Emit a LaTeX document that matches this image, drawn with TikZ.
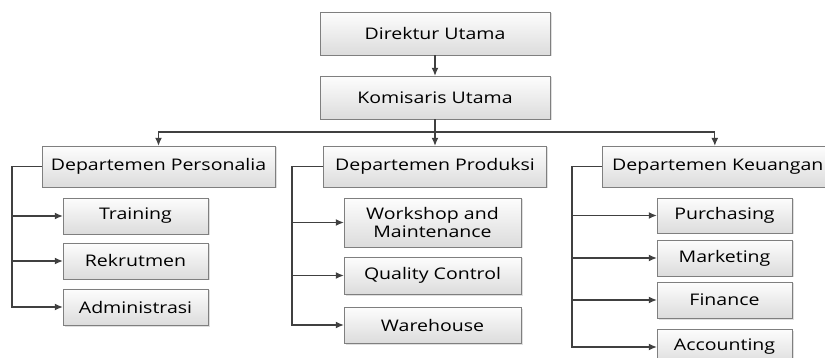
\documentclass[tikz,border=0pt]{standalone}
\usepackage{fontspec}
\setmainfont{Open Sans}[FakeStretch=1.22]
\usepackage{xcolor}
\definecolor{box-line}{HTML}{7F7F7F}
\definecolor{box-top}{HTML}{FDFDFD}
\definecolor{box-bottom}{HTML}{DCDCDC}
\definecolor{wire}{HTML}{404040}
\usepackage{tikz}
\usetikzlibrary{shadows, arrows.meta}
\tikzset{box/.style = {draw=box-line, top color=box-top, bottom color=box-bottom, align=center, text centered, inner sep=2pt, text=black, drop shadow={opacity=0.25, shadow xshift=1.5pt, shadow yshift=-1.5pt}}}
\tikzset{arr/.style = {draw=wire, line width=1.2pt, -{Latex[length=8pt, width=7pt]}}}
\tikzset{wire/.style = {draw=wire, line width=1.2pt}}

\begin{document}
\begin{tikzpicture}[x=1pt, y=-1pt,
  font=\fontsize{16}{18}\selectfont
]
\useasboundingbox (0,0) rectangle (825,358);

\node[box, minimum width=230, minimum height=43] (dir) at (435,33.5) {Direktur Utama};
\node[box, minimum width=230, minimum height=43] (kom) at (435,97.5) {Komisaris Utama};
\node[box, minimum width=233, minimum height=41] (per) at (158.5,166.5) {Departemen Personalia};
\node[box, minimum width=223, minimum height=41] (pro) at (435,166.5) {Departemen Produksi};
\node[box, minimum width=230, minimum height=41, inner xsep=10, anchor=west] (keu) at (602,166.5) {Departemen Keuangan};
% personalia
\node[box, minimum width=145, minimum height=36] (train) at (135.5,216) {Training};
\node[box, minimum width=145, minimum height=36] (rek) at (135.5,261) {Rekrutmen};
\node[box, minimum width=145, minimum height=36] (adm) at (135.5,307) {Administrasi};
% produksi
\node[box, minimum width=177, minimum height=49] (work) at (432.5,222.5) {Workshop and\\Maintenance};
\node[box, minimum width=177, minimum height=37] (qc) at (432.5,275.5) {Quality Control};
\node[box, minimum width=177, minimum height=36] (ware) at (432.5,325) {Warehouse};
% keuangan
\node[box, minimum width=135, minimum height=35] (pur) at (724.5,215.5) {Purchasing};
\node[box, minimum width=135, minimum height=36] (mar) at (724.5,258) {Marketing};
\node[box, minimum width=135, minimum height=36] (fin) at (724.5,300) {Finance};
\node[box, minimum width=135, minimum height=36] (acc) at (724.5,347) {Accounting};

\coordinate (bus) at (435,132);
\coordinate (perL) at (12,166.5);
\coordinate (proL) at (292,166.5);
\coordinate (keuL) at (572,166.5);

\draw[arr] (dir) -- (kom);
\draw[wire] (kom) -- (bus);
\draw[arr] (bus) -| (per.north);
\draw[arr] (bus) -- (pro.north);
\draw[arr] (bus) -| ([xshift=-3pt]keu.north);

\draw[wire] (per.west) -- (perL);
\draw[arr] (perL) |- (train);
\draw[arr] (perL) |- (rek);
\draw[arr] (perL) |- (adm);

\draw[wire] (pro.west) -- (proL);
\draw[arr] (proL) |- (work);
\draw[arr] (proL) |- (qc);
\draw[arr] (proL) |- (ware);

\draw[wire] (keu.west) -- (keuL);
\draw[arr] (keuL) |- (pur);
\draw[arr] (keuL) |- (mar);
\draw[arr] (keuL) |- (fin);
\draw[arr] (keuL) |- (acc);

\end{tikzpicture}
\end{document}
